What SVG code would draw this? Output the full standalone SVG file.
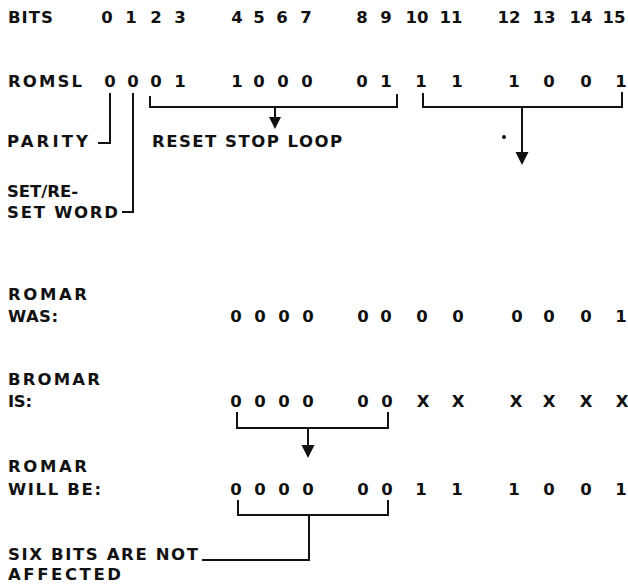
<svg xmlns="http://www.w3.org/2000/svg" width="628" height="586" viewBox="0 0 628 586">
<style>
text{font-family:"DejaVu Sans","Liberation Sans",Arial,sans-serif;font-weight:bold;font-size:16.5px;fill:#111}
.d{text-anchor:middle}
.ln{fill:none;stroke:#111;stroke-width:2}
.ah{fill:#111;stroke:none}
</style>
<rect width="628" height="586" fill="#fff"/>
<g id="row-bits">
<text x="8" y="23" textLength="45" lengthAdjust="spacing">BITS</text>
<text class="d" x="107" y="23">0</text><text class="d" x="131" y="23">1</text><text class="d" x="156" y="23">2</text><text class="d" x="180" y="23">3</text>
<text class="d" x="237" y="23">4</text><text class="d" x="259" y="23">5</text><text class="d" x="282" y="23">6</text><text class="d" x="306" y="23">7</text>
<text class="d" x="362" y="23">8</text><text class="d" x="386" y="23">9</text><text class="d" x="417" y="23">10</text><text class="d" x="451" y="23">11</text>
<text class="d" x="509" y="23">12</text><text class="d" x="544" y="23">13</text><text class="d" x="581" y="23">14</text><text class="d" x="614" y="23">15</text>
</g>
<g id="row-romsl">
<text x="8" y="87" textLength="74" lengthAdjust="spacing">ROMSL</text>
<text class="d" x="110" y="87">0</text><text class="d" x="133" y="87">0</text><text class="d" x="156" y="87">0</text><text class="d" x="180" y="87">1</text>
<text class="d" x="237" y="87">1</text><text class="d" x="259" y="87">0</text><text class="d" x="283" y="87">0</text><text class="d" x="307" y="87">0</text>
<text class="d" x="362" y="87">0</text><text class="d" x="386" y="87">1</text><text class="d" x="421" y="87">1</text><text class="d" x="457" y="87">1</text>
<text class="d" x="514" y="87">1</text><text class="d" x="549" y="87">0</text><text class="d" x="586" y="87">0</text><text class="d" x="621" y="87">1</text>
</g>
<g id="label-parity"><text x="7" y="147" textLength="81" lengthAdjust="spacing">PARITY</text></g>
<g id="label-reset-stop-loop"><text x="152" y="147" textLength="190" lengthAdjust="spacing">RESET STOP LOOP</text></g>
<g id="label-set-reset-word">
<text x="7" y="197" textLength="71" lengthAdjust="spacing">SET/RE-</text>
<text x="7" y="218" textLength="111" lengthAdjust="spacing">SET WORD</text>
</g>
<g id="row-romar-was">
<text x="8" y="300" textLength="79" lengthAdjust="spacing">ROMAR</text>
<text x="8" y="322" textLength="50" lengthAdjust="spacing">WAS:</text>
<text class="d" x="236" y="322">0</text><text class="d" x="260" y="322">0</text><text class="d" x="284" y="322">0</text><text class="d" x="308" y="322">0</text>
<text class="d" x="363" y="322">0</text><text class="d" x="386" y="322">0</text><text class="d" x="422" y="322">0</text><text class="d" x="458" y="322">0</text>
<text class="d" x="517" y="322">0</text><text class="d" x="549" y="322">0</text><text class="d" x="586" y="322">0</text><text class="d" x="621" y="322">1</text>
</g>
<g id="row-bromar-is">
<text x="8" y="385" textLength="92" lengthAdjust="spacing">BROMAR</text>
<text x="8" y="407" textLength="24" lengthAdjust="spacing">IS:</text>
<text class="d" x="236" y="407">0</text><text class="d" x="260" y="407">0</text><text class="d" x="284" y="407">0</text><text class="d" x="308" y="407">0</text>
<text class="d" x="363" y="407">0</text><text class="d" x="387" y="407">0</text><text class="d" x="423" y="407">X</text><text class="d" x="458" y="407">X</text>
<text class="d" x="516" y="407">X</text><text class="d" x="549" y="407">X</text><text class="d" x="586" y="407">X</text><text class="d" x="622" y="407">X</text>
</g>
<g id="row-romar-will-be">
<text x="8" y="472" textLength="79" lengthAdjust="spacing">ROMAR</text>
<text x="8" y="495" textLength="93" lengthAdjust="spacing">WILL BE:</text>
<text class="d" x="236" y="495">0</text><text class="d" x="260" y="495">0</text><text class="d" x="284" y="495">0</text><text class="d" x="308" y="495">0</text>
<text class="d" x="363" y="495">0</text><text class="d" x="387" y="495">0</text><text class="d" x="421" y="495">1</text><text class="d" x="457" y="495">1</text>
<text class="d" x="514" y="495">1</text><text class="d" x="549" y="495">0</text><text class="d" x="586" y="495">0</text><text class="d" x="621" y="495">1</text>
</g>
<g id="label-six-bits">
<text x="8" y="560" textLength="190" lengthAdjust="spacing">SIX BITS ARE NOT</text>
<text x="8" y="580" textLength="113" lengthAdjust="spacing">AFFECTED</text>
</g>
<g id="connectors">
<path class="ln" d="M110 93V143H98"/>
<path class="ln" d="M133 93V212H122"/>
<path class="ln" d="M150 96V107H397V94"/>
<path class="ln" d="M275 107V119"/>
<polygon class="ah" points="269,117 281,117 275,129"/>
<path class="ln" d="M423 93V107H622V92"/>
<path class="ln" d="M522 107V154"/>
<polygon class="ah" points="515.5,152 528.5,152 522,165"/>
<path class="ln" d="M237 412V428H388V412"/>
<path class="ln" d="M308 428V447"/>
<polygon class="ah" points="301.5,445 314.5,445 308,458"/>
<path class="ln" d="M238 500V515H388V500"/>
<path class="ln" d="M309 515V560H202"/>
<circle class="ah" cx="504" cy="137" r="2"/>
</g>
</svg>
